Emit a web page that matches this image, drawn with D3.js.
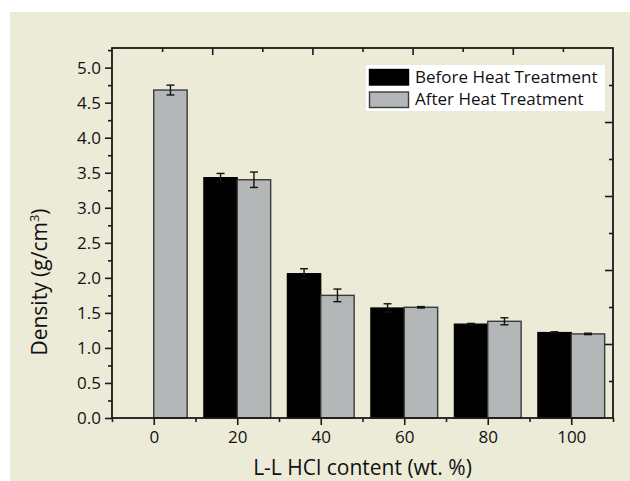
<!DOCTYPE html>
<html>
<head>
<meta charset="utf-8">
<script src="https://cdn.jsdelivr.net/npm/d3@7/dist/d3.min.js"></script>
<style>
  html, body { margin: 0; padding: 0; background: #ffffff; }
  svg { display: block; }
  text { font-family: "Open Sans", "Noto Sans", sans-serif; fill: #111; }
</style>
</head>
<body>
<svg id="chart" width="630" height="481"></svg>
<script>
// ---- data ----
const categories = [0, 20, 40, 60, 80, 100];
const beforeValues = [null, 3.43, 2.06, 1.57, 1.34, 1.22];
const beforeErrors = [null, 0.06, 0.07, 0.06, 0.01, 0.01];
const afterValues = [4.68, 3.40, 1.75, 1.58, 1.38, 1.20];
const afterErrors = [0.07, 0.11, 0.09, 0.01, 0.05, 0.01];
const seriesNames = ["Before Heat Treatment", "After Heat Treatment"];
const yTickValues = [0, 0.5, 1, 1.5, 2, 2.5, 3, 3.5, 4, 4.5, 5];
const xTickValues = [0, 20, 40, 60, 80, 100];
const xTitle = "L-L HCl content (wt. %)";

// ---- layout ----
const W = 630, H = 481;
const m = {left: 112, right: 17, top: 48, bottom: 63};
const pw = W - m.left - m.right, ph = H - m.top - m.bottom;
const barW = 8; // in data units
const colors = {before: "#000000", after: "#b4b7b8", bg: "#ecebd8"};

const svg = d3.select("#chart");
svg.append("rect").attr("x", 10).attr("y", 12).attr("width", W - 10).attr("height", H - 12).attr("fill", colors.bg);

const x = d3.scaleLinear().domain([-10, 110]).range([m.left, m.left + pw]);
const y = d3.scaleLinear().domain([0, 5.28]).range([m.top + ph, m.top]);

const g = svg.append("g");

// bars
const rows = categories.map((c, i) => ({c, b: beforeValues[i], be: beforeErrors[i], a: afterValues[i], ae: afterErrors[i]}));

g.selectAll("rect.before").data(rows.filter(d => d.b != null)).join("rect")
  .attr("class", "before")
  .attr("x", d => x(d.c - barW)).attr("width", d => x(d.c) - x(d.c - barW))
  .attr("y", d => y(d.b)).attr("height", d => y(0) - y(d.b))
  .attr("fill", colors.before).attr("stroke", "#000").attr("stroke-width", 1.2);

g.selectAll("rect.after").data(rows.filter(d => d.a != null)).join("rect")
  .attr("class", "after")
  .attr("x", d => x(d.c)).attr("width", d => x(d.c + barW) - x(d.c))
  .attr("y", d => y(d.a)).attr("height", d => y(0) - y(d.a))
  .attr("fill", colors.after).attr("stroke", "#3a3a3a").attr("stroke-width", 1.4);

// error bars
function errBars(data, key, ekey, off) {
  const eg = g.append("g").attr("stroke", "#111").attr("stroke-width", 1.4).attr("fill", "none");
  data.forEach(d => {
    if (d[key] == null) return;
    const cx = x(d.c + off);
    const top = y(d[key] + d[ekey]), bot = y(d[key] - d[ekey]);
    eg.append("line").attr("x1", cx).attr("x2", cx).attr("y1", top).attr("y2", bot);
    eg.append("line").attr("x1", cx - 4).attr("x2", cx + 4).attr("y1", top).attr("y2", top);
    eg.append("line").attr("x1", cx - 4).attr("x2", cx + 4).attr("y1", bot).attr("y2", bot);
  });
}
errBars(rows, "b", "be", -barW / 2);
errBars(rows, "a", "ae", barW / 2);

// axes
const axisColor = "#1a1a1a";
function styleAxis(sel) {
  sel.select(".domain").remove();
  sel.selectAll("line").attr("stroke", axisColor).attr("stroke-width", 1.6);
}
// left major
const yAx = g.append("g").attr("transform", `translate(${m.left},0)`)
  .call(d3.axisLeft(y).tickValues(yTickValues).tickFormat(d3.format(".1f")).tickSize(7).tickPadding(4));
styleAxis(yAx);
yAx.selectAll("text").attr("font-size", 17).attr("fill", "#111");
// left minor
const yMin = g.append("g").attr("transform", `translate(${m.left},0)`)
  .call(d3.axisLeft(y).tickValues(d3.range(0.25, 5.26, 0.5)).tickFormat("").tickSize(4));
styleAxis(yMin);

// bottom major
const xAx = g.append("g").attr("transform", `translate(0,${m.top + ph})`)
  .call(d3.axisBottom(x).tickValues(xTickValues).tickFormat(d3.format("d")).tickSize(7).tickPadding(6));
styleAxis(xAx);
xAx.selectAll("text").attr("font-size", 17).attr("fill", "#111");
const xMin = g.append("g").attr("transform", `translate(0,${m.top + ph})`)
  .call(d3.axisBottom(x).tickValues([-10, 10, 30, 50, 70, 90, 110]).tickFormat("").tickSize(4));
styleAxis(xMin);

// top & right decorative axes (inward ticks)
const tScale = d3.scaleLinear().domain([0, 5]).range([m.left, m.left + pw]);
const topMaj = g.append("g").attr("transform", `translate(0,${m.top})`)
  .call(d3.axisBottom(tScale).tickValues([1, 2, 3, 4]).tickFormat("").tickSize(7));
styleAxis(topMaj);
const topMin = g.append("g").attr("transform", `translate(0,${m.top})`)
  .call(d3.axisBottom(tScale).tickValues([0.5, 1.5, 2.5, 3.5, 4.5]).tickFormat("").tickSize(4));
styleAxis(topMin);
const rScale = d3.scaleLinear().domain([0, 5]).range([m.top + ph, m.top]);
const rMaj = g.append("g").attr("transform", `translate(${m.left + pw},0)`)
  .call(d3.axisLeft(rScale).tickValues([1, 2, 3, 4]).tickFormat("").tickSize(8));
styleAxis(rMaj);
const rMin = g.append("g").attr("transform", `translate(${m.left + pw},0)`)
  .call(d3.axisLeft(rScale).tickValues([0.5, 1.5, 2.5, 3.5, 4.5]).tickFormat("").tickSize(4));
styleAxis(rMin);

// frame
g.append("rect").attr("x", m.left).attr("y", m.top).attr("width", pw).attr("height", ph)
  .attr("fill", "none").attr("stroke", axisColor).attr("stroke-width", 1.8);

// axis titles
svg.append("text").attr("x", x(50)).attr("y", 475).attr("text-anchor", "middle")
  .attr("font-size", 21).text(xTitle);
const yt = svg.append("text").attr("transform", `translate(47,282) rotate(-90)`)
  .attr("text-anchor", "middle").attr("font-size", 21);
yt.append("tspan").text("Density (g/cm");
yt.append("tspan").attr("font-size", 13).attr("dy", -8).text("3");
yt.append("tspan").attr("dy", 8).text(")");

// legend
const lg = svg.append("g");
lg.append("rect").attr("x", 366).attr("y", 65).attr("width", 239).attr("height", 46).attr("fill", "#ffffff");
const legendItems = [
  {name: seriesNames[0], fill: colors.before, stroke: "#000"},
  {name: seriesNames[1], fill: colors.after, stroke: "#3a3a3a"}
];
legendItems.forEach((it, i) => {
  lg.append("rect").attr("x", 369.5).attr("y", 69.5 + i * 22.5).attr("width", 39).attr("height", 15.5)
    .attr("fill", it.fill).attr("stroke", it.stroke).attr("stroke-width", 1.4);
  lg.append("text").attr("x", 415).attr("y", 82.5 + i * 22.5).attr("font-size", 17).text(it.name);
});
</script>
</body>
</html>
